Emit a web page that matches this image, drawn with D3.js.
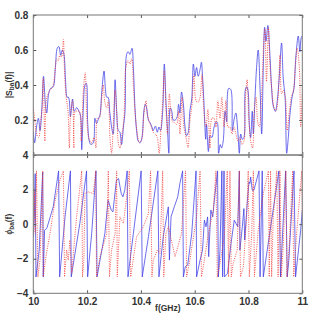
<!DOCTYPE html>
<html>
<head>
<meta charset="utf-8">
<script src="https://cdn.jsdelivr.net/npm/d3@7/dist/d3.min.js"></script>
<style>
  body { margin: 0; background: #fff; }
  text { font-family: "Liberation Sans", Arial, sans-serif; font-weight: bold; fill: #333; }
</style>
</head>
<body>
<div id="chart"></div>
<script>
// |S_ba(f)| measured (blue, solid) and model (red, dotted)
var magFreqA = [10.000,10.005,10.012,10.019,10.025,10.032,10.038,10.045,10.050,10.057,10.064,10.074,10.082,10.089,10.095,10.102,10.108,10.114,10.120,10.126,10.131,10.138,10.146,10.152,10.161,10.170,10.176,10.180,10.186,10.192,10.197,10.202,10.208,10.214,10.223,10.229,10.235,10.243,10.248,10.255,10.263,10.268,10.273,10.278,10.284,10.292,10.297,10.304,10.310,10.316,10.322,10.328,10.335,10.341,10.347,10.353,10.359,10.367,10.372,10.378,10.384,10.390,10.397,10.404,10.411,10.416,10.421,10.428,10.434,10.441,10.446,10.454,10.461,10.467,10.473,10.481,10.487,10.493,10.499,10.504,10.509,10.515,10.520,10.528,10.535,10.540,10.545,10.551,10.558,10.564,10.570,10.576,10.582,10.589,10.595,10.601,10.607,10.613,10.620,10.625,10.629,10.634,10.641,10.644,10.651,10.657,10.664,10.672,10.679,10.684,10.689,10.695,10.700,10.706,10.713,10.719,10.726,10.734,10.740,10.746,10.753,10.760,10.766,10.771,10.777,10.783,10.788,10.793,10.798,10.803,10.808,10.814,10.818,10.824,10.830,10.836,10.843,10.849,10.855,10.860,10.865,10.872,10.880,10.886,10.892,10.900,10.907,10.914,10.923,10.929,10.936,10.942,10.948,10.954,10.962,10.969,10.976,10.985,10.991,10.996,11.000];
var magA = [.13,.07,.16,.21,.14,.27,.45,.29,.24,.35,.38,.39,.50,.61,.62,.57,.60,.575,.42,.33,.33,.22,.32,.25,.27,.25,.22,.03,.27,.40,.41,.19,.08,.06,.07,.21,.18,.21,.23,.37,.48,.38,.33,.33,.25,.15,.12,.43,.25,.14,.13,.06,.16,.25,.575,.59,.575,.61,.50,.27,.14,.08,.07,.10,.25,.29,.27,.20,.185,.16,.14,.165,.13,.16,.14,.25,.52,.31,.14,.01,.27,.25,.20,.20,.22,.29,.24,.36,.29,.16,.11,.13,.25,.32,.52,.45,.50,.45,.49,.53,.45,.31,.09,.175,.02,.11,.10,.16,.19,.185,.01,.06,.04,.08,.25,.19,.38,.375,.14,.20,.24,.14,.01,.12,.09,.10,.37,.39,.37,.175,.10,.25,.12,.32,.50,.60,.38,.12,.50,.73,.65,.74,.56,.38,.28,.25,.31,.44,.64,.44,.33,.01,.10,.23,.33,.38,.56,.68,.59,.67,.68];

var magFreqB = [10.000,10.005,10.012,10.020,10.027,10.032,10.037,10.043,10.048,10.055,10.062,10.072,10.081,10.087,10.093,10.099,10.105,10.112,10.115,10.121,10.129,10.134,10.139,10.146,10.151,10.156,10.164,10.171,10.178,10.186,10.193,10.198,10.206,10.217,10.226,10.233,10.238,10.245,10.254,10.260,10.266,10.273,10.279,10.285,10.291,10.297,10.304,10.310,10.317,10.322,10.330,10.337,10.344,10.352,10.359,10.366,10.372,10.379,10.387,10.394,10.403,10.411,10.419,10.424,10.431,10.439,10.446,10.454,10.461,10.468,10.475,10.481,10.487,10.493,10.499,10.506,10.511,10.518,10.525,10.533,10.540,10.545,10.553,10.560,10.568,10.575,10.582,10.590,10.597,10.605,10.612,10.620,10.627,10.634,10.642,10.649,10.657,10.664,10.672,10.679,10.686,10.694,10.701,10.709,10.716,10.724,10.731,10.739,10.746,10.753,10.761,10.768,10.776,10.783,10.788,10.795,10.800,10.808,10.815,10.822,10.828,10.834,10.840,10.849,10.855,10.861,10.867,10.874,10.880,10.887,10.895,10.902,10.910,10.917,10.923,10.929,10.937,10.944,10.952,10.959,10.967,10.974,10.981,10.989,10.994,11.000];
var magB = [.27,.21,.12,.10,.19,.25,.44,.08,.31,.35,.37,.39,.48,.55,.54,.575,.56,.66,.52,.35,.25,.04,.25,.31,.04,.25,.25,.25,.08,.37,.47,.25,.10,.07,.10,.04,.21,.21,.32,.40,.30,.27,.31,.10,.01,.16,.37,.24,.06,.04,.12,.21,.50,.54,.52,.55,.40,.23,.12,.07,.09,.23,.31,.23,.19,.16,.13,.12,.10,.01,.16,.31,.48,.27,.12,.35,.25,.19,.185,.175,.25,.12,.33,.16,.10,.04,.19,.29,.46,.31,.30,.33,.46,.25,.16,.26,.04,.21,.21,.16,.31,.21,.33,.16,.31,.16,.16,.12,.16,.12,.08,.10,.06,.08,.31,.43,.25,.08,.04,.27,.33,.19,.16,.35,.59,.72,.42,.73,.50,.37,.27,.25,.33,.57,.35,.37,.33,.14,.25,.33,.37,.50,.61,.50,.16,.35];

// phase phi_ba(f), rad
var phFreqA = [10.000,10.004,10.007,10.010,10.022,10.035,10.037,10.042,10.050,10.074,10.094,10.098,10.118,10.138,10.141,10.173,10.198,10.202,10.217,10.233,10.237,10.248,10.266,10.278,10.290,10.296,10.309,10.317,10.327,10.333,10.340,10.349,10.352,10.372,10.401,10.405,10.428,10.463,10.467,10.483,10.502,10.506,10.512,10.524,10.537,10.545,10.555,10.558,10.565,10.574,10.589,10.605,10.607,10.620,10.629,10.636,10.642,10.648,10.652,10.660,10.667,10.673,10.685,10.688,10.694,10.701,10.704,10.709,10.711,10.722,10.735,10.747,10.760,10.766,10.768,10.777,10.783,10.786,10.796,10.802,10.805,10.808,10.814,10.820,10.839,10.843,10.851,10.855,10.913,10.919,10.938,10.944,10.950,10.969,10.975,10.994,11.000];
var phA = [-0.73,0.42,2.92,-3.05,-1.5,3.02,-3.05,-0.35,-0.25,1.0,3.08,-3.05,0.42,3.08,-3.05,0.04,3.08,-3.05,-0.54,3.08,-3.05,-2.08,-0.54,1.38,0.81,0.71,2.54,2.63,1.77,1.58,1.96,3.08,-3.05,-0.54,3.08,-3.05,-0.73,3.08,-3.05,-0.73,1.0,-2.08,0.42,1.0,1.58,2.35,3.08,-3.05,-2.46,-2.37,-0.54,3.08,-3.05,-2.08,-1.5,0.23,-0.15,0.42,-1.88,0.81,0.42,1.38,3.08,-3.05,-1.5,3.08,-3.05,3.08,-3.05,-2.85,-1.12,0.23,-0.15,3.08,-1.5,-0.15,0.90,-0.92,1.38,2.44,2.35,2.73,1.96,1.96,3.08,-3.05,3.08,-3.05,3.08,-3.05,3.08,-3.05,-2.08,3.08,-3.05,-0.35,0.81];

var phFreqB = [10.000,10.004,10.007,10.012,10.017,10.025,10.035,10.037,10.047,10.062,10.081,10.099,10.112,10.116,10.124,10.130,10.136,10.143,10.151,10.161,10.180,10.183,10.188,10.192,10.204,10.223,10.232,10.235,10.248,10.273,10.279,10.283,10.291,10.304,10.310,10.312,10.322,10.335,10.347,10.357,10.362,10.384,10.409,10.428,10.436,10.441,10.446,10.461,10.471,10.481,10.485,10.493,10.502,10.527,10.551,10.566,10.570,10.582,10.607,10.620,10.625,10.632,10.651,10.669,10.679,10.684,10.694,10.704,10.711,10.721,10.726,10.731,10.736,10.743,10.758,10.766,10.770,10.781,10.793,10.799,10.803,10.812,10.818,10.822,10.836,10.855,10.874,10.877,10.882,10.886,10.892,10.905,10.910,10.917,10.922,10.929,10.939,10.943,10.952,10.964,10.968,10.979,10.998,11.000];
var phB = [-0.35,1.96,-0.54,3.08,-3.05,-2.08,3.08,-3.05,-1.88,-0.54,1.38,2.54,3.08,-3.05,-1.5,-2.08,-0.92,-2.85,-1.31,0.42,3.08,-3.05,-2.08,1.77,1.87,1.77,3.08,-3.05,-1.88,-0.54,3.08,-3.05,-1.5,-0.54,3.08,-3.05,0.42,0.04,1.58,3.08,-3.05,-0.73,-0.15,0.62,3.08,-3.05,-2.08,-1.5,-1.69,3.08,-3.05,-0.54,-0.15,-1.88,-0.54,3.08,-3.05,-2.08,0.42,3.08,-3.05,-2.46,-0.54,0.81,3.08,-3.05,-2.27,-1.31,-0.54,3.08,-3.05,3.08,-3.05,-2.27,-1.5,3.08,-3.05,-2.46,0.42,3.08,-3.05,-0.54,3.08,-3.05,-0.35,1.77,3.08,-3.05,3.08,-3.05,0.42,3.08,-3.05,3.08,-3.05,-1.31,3.08,-3.05,-1.12,3.08,-3.05,-0.54,3.08,0.42];

var xTicks = [10, 10.2, 10.4, 10.6, 10.8, 11];
var magTicks = [0.2, 0.4, 0.6, 0.8];
var phTicks = [-4, -2, 0, 2, 4];

var width = 336, height = 319;
var left = 33.3, right = 302.3;
var magTop = 15, magBottom = 155;
var phTop = 155, phBottom = 293.3;

var svg = d3.select('#chart').append('svg')
  .attr('width', width).attr('height', height)
  .style('font-size', '8px');

var x = d3.scaleLinear().domain([10, 11]).range([left, right]);
var yMag = d3.scaleLinear().domain([0, 0.8]).range([magBottom, magTop]);
var yPh = d3.scaleLinear().domain([-4, 4]).range([phBottom, phTop]);

var defs = svg.append('defs');
defs.append('clipPath').attr('id', 'clipMag').append('rect')
  .attr('x', left).attr('y', magTop).attr('width', right - left).attr('height', magBottom - magTop);
defs.append('clipPath').attr('id', 'clipPh').append('rect')
  .attr('x', left).attr('y', phTop).attr('width', right - left).attr('height', phBottom - phTop);

function zip(fs, vs) { return fs.map((f, i) => [f, vs[i]]); }

var magLine = d3.line().x(d => x(d[0])).y(d => yMag(d[1])).curve(d3.curveCatmullRom.alpha(0.5));
var phLine = d3.line().x(d => x(d[0])).y(d => yPh(d[1]));

var blue = '#3c3ce6', red = '#ee3a36';

// top panel
var gMag = svg.append('g').attr('clip-path', 'url(#clipMag)');
gMag.append('path').attr('d', magLine(zip(magFreqA, magA)))
  .attr('fill', 'none').attr('stroke', blue).attr('stroke-width', 1).attr('stroke-opacity', 0.75);
gMag.append('path').attr('d', magLine(zip(magFreqB, magB)))
  .attr('fill', 'none').attr('stroke', red).attr('stroke-width', 1).attr('stroke-opacity', 0.85)
  .attr('stroke-dasharray', '1,1.3');

// bottom panel
var gPh = svg.append('g').attr('clip-path', 'url(#clipPh)');
gPh.append('path').attr('d', phLine(zip(phFreqA, phA)))
  .attr('fill', 'none').attr('stroke', blue).attr('stroke-width', 1).attr('stroke-opacity', 0.75);
gPh.append('path').attr('d', phLine(zip(phFreqB, phB)))
  .attr('fill', 'none').attr('stroke', red).attr('stroke-width', 1).attr('stroke-opacity', 0.85)
  .attr('stroke-dasharray', '1,1.3');

// axes, ticks inward
function styleAxis(g) {
  g.select('.domain').remove();
  g.selectAll('.tick line').attr('stroke', '#555');
  g.selectAll('.tick text').attr('fill', '#333').style('font-weight', 'bold');
}

svg.append('g').attr('transform', `translate(${left},0)`)
  .call(d3.axisLeft(yMag).tickValues(magTicks).tickSize(-3).tickPadding(5).tickFormat(d3.format('.1f')))
  .call(styleAxis);
svg.append('g').attr('transform', `translate(${right},0)`)
  .call(d3.axisRight(yMag).tickValues(magTicks).tickSize(-3).tickFormat(''))
  .call(styleAxis);
svg.append('g').attr('transform', `translate(0,${magBottom})`)
  .call(d3.axisTop(x).tickValues(xTicks).tickSize(3).tickFormat(''))
  .call(styleAxis);
svg.append('g').attr('transform', `translate(0,${magTop})`)
  .call(d3.axisBottom(x).tickValues(xTicks).tickSize(3).tickFormat(''))
  .call(styleAxis);

svg.append('g').attr('transform', `translate(${left},0)`)
  .call(d3.axisLeft(yPh).tickValues(phTicks).tickSize(-3).tickPadding(5))
  .call(styleAxis);
svg.append('g').attr('transform', `translate(${right},0)`)
  .call(d3.axisRight(yPh).tickValues(phTicks).tickSize(-3).tickFormat(''))
  .call(styleAxis);
svg.append('g').attr('transform', `translate(0,${phBottom})`)
  .call(d3.axisBottom(x).tickValues(xTicks).tickSize(-3).tickPadding(5).tickFormat(d => d === 10 || d === 11 ? d3.format('d')(d) : d3.format('.1f')(d)))
  .call(styleAxis);
svg.append('g').attr('transform', `translate(0,${phTop})`)
  .call(d3.axisBottom(x).tickValues(xTicks).tickSize(3).tickFormat(''))
  .call(styleAxis);

// frames
svg.append('rect').attr('x', left).attr('y', magTop).attr('width', right - left).attr('height', magBottom - magTop)
  .attr('fill', 'none').attr('stroke', '#777').attr('stroke-width', 1);
svg.append('rect').attr('x', left).attr('y', phTop).attr('width', right - left).attr('height', phBottom - phTop)
  .attr('fill', 'none').attr('stroke', '#777').attr('stroke-width', 1);

// labels
svg.append('text').attr('x', (left + right) / 2).attr('y', 311)
  .attr('text-anchor', 'middle').style('font-size', '8.5px').text('f(GHz)');

var ly1 = svg.append('text').attr('transform', `translate(12,${(magTop + magBottom) / 2}) rotate(-90)`)
  .attr('text-anchor', 'middle').style('font-size', '8.5px');
ly1.append('tspan').text('|S');
ly1.append('tspan').attr('dy', 2).style('font-size', '6.5px').text('ba');
ly1.append('tspan').attr('dy', -2).text('(f)|');

var ly2 = svg.append('text').attr('transform', `translate(12,${(phTop + phBottom) / 2}) rotate(-90)`)
  .attr('text-anchor', 'middle').style('font-size', '8.5px');
ly2.append('tspan').style('font-style', 'italic').style('font-weight', 'normal').text('ϕ');
ly2.append('tspan').attr('dy', 2).style('font-size', '6.5px').text('ba');
ly2.append('tspan').attr('dy', -2).text('(f)');
</script>
</body>
</html>
